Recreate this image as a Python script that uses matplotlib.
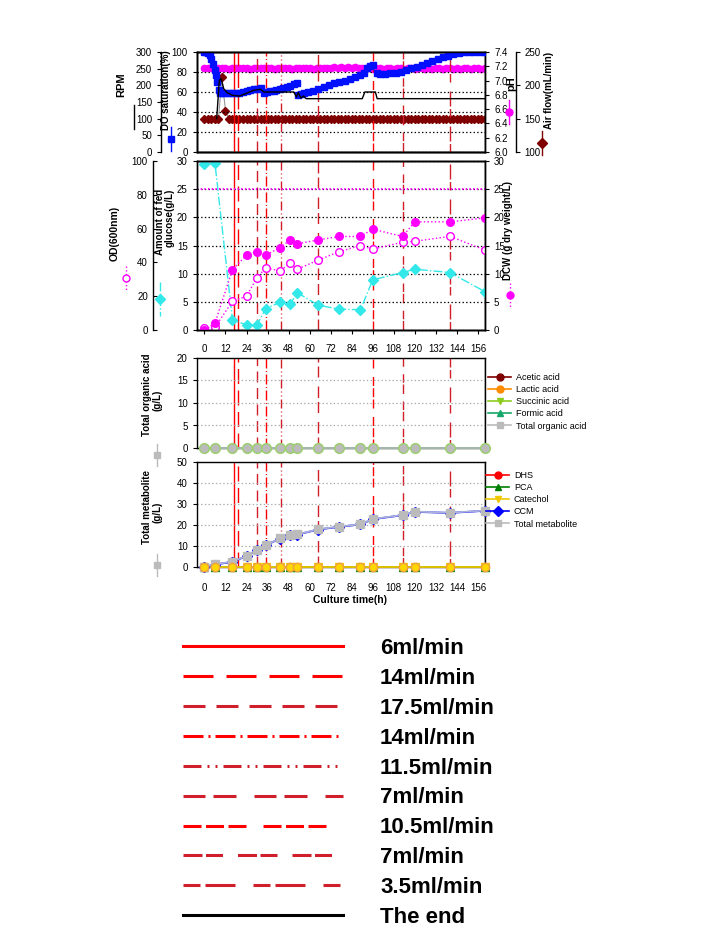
import matplotlib.pyplot as plt
from matplotlib.lines import Line2D

plt.rcParams['font.family'] = ['Liberation Sans', 'DejaVu Sans']
plt.rcParams['lines.scale_dashes'] = False
plt.rcParams['axes.linewidth'] = 1.0

W, H = 707, 947

# --- on-line data (every 2 h) ---
t_online = list(range(0, 161, 2))
ph = [7.18, 7.17, 7.17, 7.16, 7.17, 7.18, 7.17, 7.16, 7.17, 7.18,
      7.17, 7.18, 7.17, 7.16, 7.17, 7.18, 7.17, 7.17, 7.18, 7.17,
      7.16, 7.17, 7.18, 7.17, 7.17, 7.16, 7.17, 7.17, 7.18, 7.17,
      7.17, 7.16, 7.17, 7.17, 7.18, 7.17, 7.18, 7.19, 7.18, 7.19,
      7.18, 7.19, 7.18, 7.19, 7.18, 7.18, 7.17, 7.17, 7.16, 7.17,
      7.17, 7.16, 7.17, 7.17, 7.16, 7.17, 7.17, 7.16, 7.17, 7.17,
      7.16, 7.17, 7.17, 7.16, 7.17, 7.16, 7.17, 7.17, 7.16, 7.17,
      7.17, 7.16, 7.17, 7.16, 7.17, 7.17, 7.16, 7.17, 7.17, 7.16,
      7.17]
air_flow = [150] * 5 + [212, 162] + [150] * 74

do_t = [0, 1, 2, 3, 4, 5, 6, 6.7, 7.4, 8.2, 9, 10, 12, 14, 16, 18, 20, 22, 24, 26,
        28, 30, 32, 33.7, 35.6, 37.5, 39.4, 41, 43, 45, 47, 49, 51, 52.7, 53.6, 55,
        57, 59, 62, 65, 68, 71, 74, 77, 80, 83, 86, 89, 91, 92.6, 94.5, 96.4, 98.3,
        100, 103, 106, 109, 112, 115, 118, 121, 124, 127, 130, 133, 136, 139, 142,
        145, 148, 151, 154, 157, 160]
do_sat = [100, 99.5, 99, 97, 93, 88, 82, 77, 70, 62, 59, 59, 59, 59, 59, 59, 59, 60, 61, 62,
          63, 63, 64, 59, 60, 61, 61, 62, 63, 64, 65, 66, 68, 69, 57, 58,
          59, 60, 61, 63, 65, 67, 69, 70, 71, 73, 75, 77, 79, 84, 86, 87, 79,
          78, 78, 79, 79, 80, 82, 84, 85, 87, 89, 91, 93, 95, 96, 98,
          99, 100, 100, 100, 100, 100]

rpm_t = [7, 8.5, 9.5, 11, 13, 16, 20, 24, 28, 32, 34, 36, 40, 44, 48, 51, 52.5, 53.5,
         55, 56.5, 58, 90, 91.5, 97.5, 98.5, 160]
rpm = [100, 215, 220, 190, 178, 170, 168, 176, 185, 188, 180, 180, 180, 180, 180, 180, 165, 178,
       162, 168, 160, 160, 180, 180, 160, 160]

# --- off-line samples ---
t_sample = [0, 6, 16, 24, 30, 35, 43, 49, 53, 65, 77, 89, 96, 113, 120, 140, 160]
od600 = [1, 1.6, 17, 20, 31, 36.7, 35, 39.6, 36, 41.4, 46.4, 50, 47.9, 51.9, 52.5, 55.4, 47.3]
dcw = [0, 1.2, 10.7, 13.3, 13.9, 13.3, 14.6, 16.0, 15.3, 16.0, 16.6, 16.6, 17.9, 16.6, 19.2, 19.2, 19.9]
glucose = [29.4, 29.6, 1.8, 0.9, 0.9, 3.8, 4.9, 4.7, 6.6, 4.4, 3.7, 3.6, 8.9, 10.2, 10.8, 10.2, 6.8]
fed_glucose = 25

acetic = [0] * 17
lactic = [0] * 17
succinic = [0] * 17
formic = [0] * 17
total_acid = [0] * 17

dhs = [0] * 17
pca = [0] * 17
catechol = [0] * 17
ccm = [0.2, 1.3, 2.6, 5.3, 8.2, 10.4, 13.7, 15.3, 15.6, 18.0, 19.3, 20.4, 22.9, 24.8, 26.4, 25.9, 26.9]
total_met = [0.3, 1.4, 2.7, 5.4, 8.3, 10.5, 13.8, 15.4, 15.7, 18.1, 19.4, 20.5, 23.0, 24.9, 26.5, 26.0, 27.0]

# --- feeding events ---
feed_t = [17, 19.4, 30.2, 35.4, 43.4, 65, 96, 113, 140.2, 160]
feed_labels = ['6ml/min', '14ml/min', '17.5ml/min', '14ml/min', '11.5ml/min',
               '7ml/min', '10.5ml/min', '7ml/min', '3.5ml/min', 'The end']
feed_colors = ['#ff0000', '#ff0000', '#d01f2b', '#ff0000', '#d01f2b',
               '#d01f2b', '#ff0000', '#d01f2b', '#d01f2b', 'black']
# dash patterns in pixels
feed_dash_px = [None, (30, 13), (22, 11), (20, 5, 2, 5), (18, 6, 2, 6, 2, 6),
                (22, 8, 23, 18), (18, 4.5, 18, 4.5, 18, 17), (19, 3.5, 17, 15),
                (17, 5, 30, 18), None]

xticks = list(range(0, 157, 12))
XLIM = (-4.4, 160)


def fy(py):
    return 1 - py / H


def dash_style(i, scale):
    d = feed_dash_px[i]
    if d is None:
        return dict(linestyle='-')
    return dict(dashes=[v * 0.72 * scale for v in d])


def events(ax):
    for i, t in enumerate(feed_t):
        ax.axvline(t, color=feed_colors[i], lw=1.0, zorder=1, **dash_style(i, 0.5))


def sample(px, py, half, color, marker, ls='-', mfc=None, ms=5):
    fig.add_artist(Line2D([px / W] * 2, [fy(py - half), fy(py + half)], color=color,
                          lw=1, ls=ls, transform=fig.transFigure))
    if marker:
        fig.add_artist(Line2D([px / W], [fy(py)], marker=marker, color=color,
                              mfc=mfc or color, ms=ms, ls='none', transform=fig.transFigure))


def vlabel(px, py, s, size=7.5, bold=True):
    fig.text(px / W, fy(py), s, rotation=90, ha='center', va='center', fontsize=size,
             fontweight='bold' if bold else 'normal')


fig = plt.figure(figsize=(W / 100, H / 100), dpi=100)
left = 196.7 / W
width = (485 - 196.7) / W
tick_kw = dict(labelsize=7, length=3, width=0.8)

# ---------------- panel 1 ----------------
ax1 = fig.add_axes([left, fy(152), width, 100 / H])
ax1_ph = ax1.twinx()
ax1_air = ax1.twinx()
ax1_rpm = ax1.twinx()
ax1_ph.set_zorder(1)
ax1_air.set_zorder(2)
ax1.set_zorder(3)
ax1_rpm.set_zorder(4)
ax1.patch.set_visible(False)

ax1.set_xlim(XLIM)
ax1.set_ylim(0, 100)
ax1.set_yticks(range(0, 101, 20))
ax1.set_xticks(xticks)
ax1.tick_params(axis='x', labelbottom=False, length=0)
ax1.tick_params(axis='y', **tick_kw)
ax1.yaxis.grid(True, linestyle=':', color='black', lw=0.9)
events(ax1)
ax1.plot(do_t, do_sat, 's', color='#0010ff', ms=5, zorder=3)

ax1_ph.set_ylim(6.0, 7.4)
ax1_ph.set_yticks([6.0, 6.2, 6.4, 6.6, 6.8, 7.0, 7.2, 7.4])
ax1_ph.set_yticklabels(['%.1f' % v for v in [6.0, 6.2, 6.4, 6.6, 6.8, 7.0, 7.2, 7.4]])
ax1_ph.tick_params(axis='y', **tick_kw)
ax1_ph.plot(t_online, ph, 'o', color='#ff00ff', ms=4.5)

ax1_air.spines['right'].set_position(('axes', (515.7 - 196.7) / 288.3))
ax1_air.set_ylim(100, 250)
ax1_air.set_yticks([100, 150, 200, 250])
ax1_air.tick_params(axis='y', **tick_kw)
ax1_air.plot(t_online, air_flow, '-', color='#999999', lw=0.8)
ax1_air.plot(t_online, air_flow, 'D', color='#7f0000', ms=4.5)

ax1_rpm.yaxis.set_ticks_position('left')
ax1_rpm.spines['left'].set_visible(True)
ax1_rpm.spines['left'].set_position(('axes', (161 - 196.7) / 288.3))
ax1_rpm.spines['right'].set_visible(False)
ax1_rpm.set_ylim(0, 300)
ax1_rpm.set_yticks(range(0, 301, 50))
ax1_rpm.tick_params(axis='y', **tick_kw)
ax1_rpm.plot(rpm_t, rpm, '-', color='black', lw=1.0)

# ---------------- panel 2 ----------------
ax2 = fig.add_axes([left, fy(330), width, 169 / H])
ax2_od = ax2.twinx()
ax2_dcw = ax2.twinx()
ax2.set_xlim(XLIM)
ax2.set_ylim(0, 30)
ax2.set_yticks(range(0, 31, 5))
ax2.set_xticks(xticks)
ax2.tick_params(axis='y', **tick_kw)
ax2.tick_params(axis='x', labelsize=7, length=3, pad=7)
ax2.yaxis.grid(True, linestyle=':', color='black', lw=0.9)
events(ax2)
ax2.axhline(fed_glucose, color='#ff00ff', ls=':', lw=1.4, zorder=2)
ax2.plot(t_sample, glucose, '-.', color='#33e8e8', lw=1, marker='D', ms=5, zorder=3)

ax2_od.yaxis.set_ticks_position('left')
ax2_od.spines['left'].set_visible(True)
ax2_od.spines['left'].set_position(('axes', (152.7 - 196.7) / 288.3))
ax2_od.spines['right'].set_visible(False)
ax2_od.set_ylim(0, 100)
ax2_od.set_yticks(range(0, 101, 20))
ax2_od.tick_params(axis='y', direction='in', **tick_kw)
ax2_od.plot(t_sample, od600, ':', color='#ff00ff', lw=1, marker='o', mfc='white', ms=5.5)

ax2_dcw.set_ylim(0, 30)
ax2_dcw.set_yticks(range(0, 31, 5))
ax2_dcw.tick_params(axis='y', **tick_kw)
ax2_dcw.plot(t_sample, dcw, ':', color='#ff00ff', lw=1, marker='o', ms=5.5)

# ---------------- panel 3 ----------------
ax3 = fig.add_axes([left, fy(448), width, 90 / H])
ax3.set_xlim(XLIM)
ax3.set_ylim(0, 20)
ax3.set_yticks(range(0, 21, 5))
ax3.set_xticks(xticks)
ax3.tick_params(axis='x', labelbottom=False, length=0)
ax3.tick_params(axis='y', **tick_kw)
ax3.yaxis.grid(True, linestyle=':', color='#aaaaaa', lw=0.9)
events(ax3)
acid_series = [(acetic, '#7f0000', 'o', 'Acetic acid'),
               (lactic, '#ff8c00', 'o', 'Lactic acid'),
               (succinic, '#8ccc1e', 'v', 'Succinic acid'),
               (formic, '#16a86a', '^', 'Formic acid'),
               (total_acid, '#bbbbbb', 's', 'Total organic acid')]
h3 = []
for vals, c, m, lab in acid_series:
    ax3.plot(t_sample, vals, '-', color=c, lw=1.2, marker=m, ms=5, clip_on=False, zorder=3)
    h3.append(Line2D([], [], color=c, marker=m, ms=5, lw=1.2, label=lab))
ax3.plot(t_sample, total_acid, 'o', color='#bbbbbb', mec='#9ad06a', ms=7, clip_on=False, zorder=4)
fig.legend(handles=h3, loc='upper left', bbox_to_anchor=(488 / W, fy(373)), fontsize=6.5,
           frameon=False, handlelength=2.6, handletextpad=0.5, labelspacing=0.35,
           borderpad=0, borderaxespad=0)

# ---------------- panel 4 ----------------
ax4 = fig.add_axes([left, fy(567.3), width, 105 / H])
ax4.set_xlim(XLIM)
ax4.set_ylim(0, 50)
ax4.set_yticks(range(0, 51, 10))
ax4.set_xticks(xticks)
ax4.tick_params(axis='y', **tick_kw)
ax4.tick_params(axis='x', labelsize=7, length=0, pad=11)
ax4.yaxis.grid(True, linestyle=':', color='#aaaaaa', lw=0.9)
events(ax4)
met_series = [(dhs, '#ff0000', 'o', 'DHS'),
              (pca, '#007f00', '^', 'PCA'),
              (catechol, '#f0c800', 'v', 'Catechol'),
              (ccm, '#0000ff', 'D', 'CCM'),
              (total_met, '#bbbbbb', 's', 'Total metabolite')]
h4 = []
for vals, c, m, lab in met_series:
    lc = '#aab0dc' if lab == 'Total metabolite' else c
    ax4.plot(t_sample, vals, '-', color=lc, lw=1.3, marker=m, mfc=c, mec=c, ms=5.5,
             clip_on=False, zorder=3)
    h4.append(Line2D([], [], color=c, marker=m, ms=5, lw=1.2, label=lab))
ax4.plot(t_sample, catechol, 'o', color='#ffd700', mec='#f0a040', ms=6, clip_on=False, zorder=4)
fig.legend(handles=h4, loc='upper left', bbox_to_anchor=(486 / W, fy(471)), fontsize=6.5,
           frameon=False, handlelength=2.6, handletextpad=0.5, labelspacing=0.35,
           borderpad=0, borderaxespad=0)
fig.text(350 / W, fy(600), 'Culture time(h)', ha='center', va='center', fontsize=7.5,
         fontweight='bold')

# ---------------- axis labels and samples ----------------
vlabel(121, 85, 'RPM', size=8)
sample(134, 117, 12, 'black', None)
vlabel(166, 90, 'DO saturation(%)', size=7)
sample(171, 139, 12, '#0010ff', 's')
vlabel(511, 84, 'pH', size=8)
sample(508.7, 112, 12, '#ff00ff', 'o')
vlabel(549, 90, 'Air flow(mL/min)', size=7)
sample(542.3, 143, 12, '#7f0000', 'D')

vlabel(115, 233, 'OD(600nm)', size=7.5)
sample(125.7, 278, 12, '#ff00ff', 'o', ls=':', mfc='white')
vlabel(160, 222, 'Amount of fed', size=7)
vlabel(170, 218, 'glucose(g/L)', size=7)
sample(159.5, 299, 17, '#33e8e8', 'D', ls='-.')
vlabel(508, 231, 'DCW (g dry weight/L)', size=7)
sample(509.7, 295, 12, '#ff00ff', 'o', ls=':')

vlabel(146.7, 395, 'Total organic acid', size=7)
vlabel(157.3, 400, '(g/L)', size=7)
sample(157.3, 455, 11, '#bbbbbb', 's')
vlabel(146.7, 507, 'Total metabolite', size=7)
vlabel(157.3, 512, '(g/L)', size=7)
sample(157.3, 565, 11, '#bbbbbb', 's')

# ---------------- feeding legend ----------------
feed_handles = []
for i, lab in enumerate(feed_labels):
    feed_handles.append(Line2D([], [], color=feed_colors[i], lw=2.2, label=lab,
                               **dash_style(i, 1.0)))
fig.legend(handles=feed_handles, loc='upper left', bbox_to_anchor=(183 / W, fy(638)),
           prop={'family': 'Liberation Sans', 'weight': 'bold', 'size': 16},
           frameon=False, handlelength=7.2, handletextpad=1.67, labelspacing=0.40,
           borderpad=0, borderaxespad=0)

fig.savefig('out.png', dpi=100)
